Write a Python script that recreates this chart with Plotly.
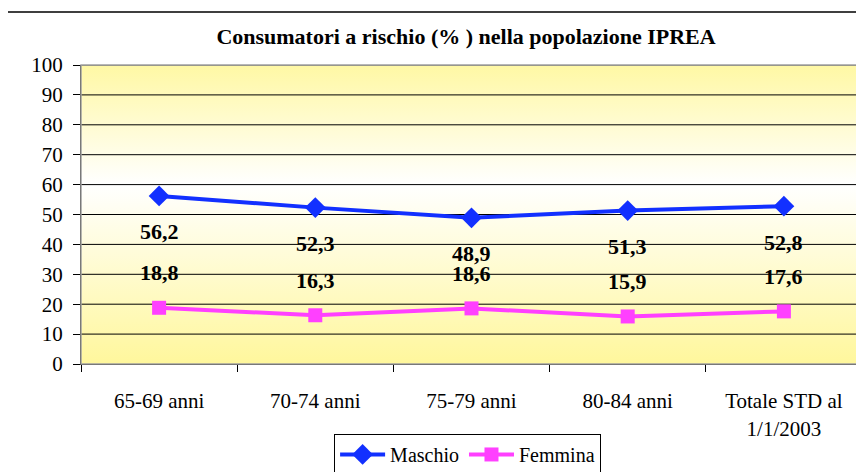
import plotly.graph_objects as go

categories = ["65-69 anni", "70-74 anni", "75-79 anni", "80-84 anni", "Totale STD al<br>1/1/2003"]
maschio = [56.2, 52.3, 48.9, 51.3, 52.8]
femmina = [18.8, 16.3, 18.6, 15.9, 17.6]
y_ticks = [0, 10, 20, 30, 40, 50, 60, 70, 80, 90, 100]

FONT = "Liberation Serif"
BLUE = "#1230ff"
MAG = "#ff40ff"

xs = list(range(len(categories)))
xmin, xmax = -0.5, len(categories) - 0.5

fig = go.Figure()

# gradient background
fig.add_trace(go.Scatter(
    x=[xmin, xmax, xmax, xmin, xmin], y=[0, 0, 100, 100, 0],
    mode="lines", line=dict(width=0), fill="toself",
    fillgradient=dict(type="vertical", start=0, stop=100,
                      colorscale=[[0, "#fff79c"], [0.6, "#ffffff"], [1, "#fff8a4"]]),
    hoverinfo="skip", showlegend=False))

# gridlines above the gradient
gx, gy = [], []
for t in y_ticks[1:]:
    gx += [xmin, xmax, None]
    gy += [t, t, None]
fig.add_trace(go.Scatter(x=gx, y=gy, mode="lines", line=dict(color="#000000", width=1),
                         hoverinfo="skip", showlegend=False))

fig.add_trace(go.Scatter(x=xs, y=maschio, name="Maschio", mode="lines+markers",
                         line=dict(color=BLUE, width=4),
                         marker=dict(symbol="diamond", size=16, color=BLUE)))
fig.add_trace(go.Scatter(x=xs, y=femmina, name="Femmina", mode="lines+markers",
                         line=dict(color=MAG, width=4),
                         marker=dict(symbol="square", size=14, color=MAG)))

lab_font = dict(family=FONT, size=22, color="black")
for x, v in zip(xs, maschio):
    fig.add_annotation(x=x, y=v, text="<b>" + f"{v:.1f}".replace(".", ",") + "</b>",
                       showarrow=False, yshift=-36, font=lab_font)
for x, v in zip(xs, femmina):
    fig.add_annotation(x=x, y=v, text="<b>" + f"{v:.1f}".replace(".", ",") + "</b>",
                       showarrow=False, yshift=35, font=lab_font)

# outer chart border
fig.add_shape(type="rect", xref="paper", yref="paper", x0=-0.096, x1=1.02, y0=-0.45, y1=1.177,
              line=dict(color="black", width=1.5), fillcolor="rgba(0,0,0,0)", layer="below")
# plot area border
fig.add_shape(type="rect", xref="paper", yref="paper", x0=0, x1=1, y0=0, y1=1,
              line=dict(color="#a0a0a0", width=1.5), fillcolor="rgba(0,0,0,0)", layer="above")

fig.update_layout(
    width=856, height=464,
    margin=dict(l=73, r=2, t=57, b=108, autoexpand=False),
    paper_bgcolor="white", plot_bgcolor="white",
    font=dict(family=FONT, size=21, color="black"),
    title=dict(text="<b>Consumatori a rischio (% ) nella popolazione IPREA</b>",
               x=0.493, xref="paper", xanchor="center", y=0.94, yanchor="middle",
               font=dict(family=FONT, size=22, color="black")),
    showlegend=True,
    legend=dict(orientation="h", x=0.495, xanchor="center", y=-0.234, yanchor="top",
                bordercolor="black", borderwidth=1, bgcolor="white",
                font=dict(family=FONT, size=20, color="black"), itemwidth=45,
                traceorder="normal"),
)

fig.update_xaxes(range=[xmin, xmax], tickvals=xs, ticktext=categories, showgrid=False,
                 zeroline=False, showline=True, linecolor="black", linewidth=1,
                 ticks="", ticklabelstandoff=18, automargin=False,
                 minor=dict(tick0=-0.5, dtick=1, ticks="outside", ticklen=7,
                            tickcolor="black", showgrid=False),
                 tickfont=dict(family=FONT, size=21, color="black"))
fig.update_yaxes(range=[0, 100], tickvals=y_ticks, showgrid=False, zeroline=False,
                 showline=True, linecolor="black", linewidth=1, automargin=False,
                 ticks="outside", ticklen=7, tickcolor="black", ticklabelstandoff=6,
                 tickfont=dict(family=FONT, size=21, color="black"))

fig.write_html("out.html")
